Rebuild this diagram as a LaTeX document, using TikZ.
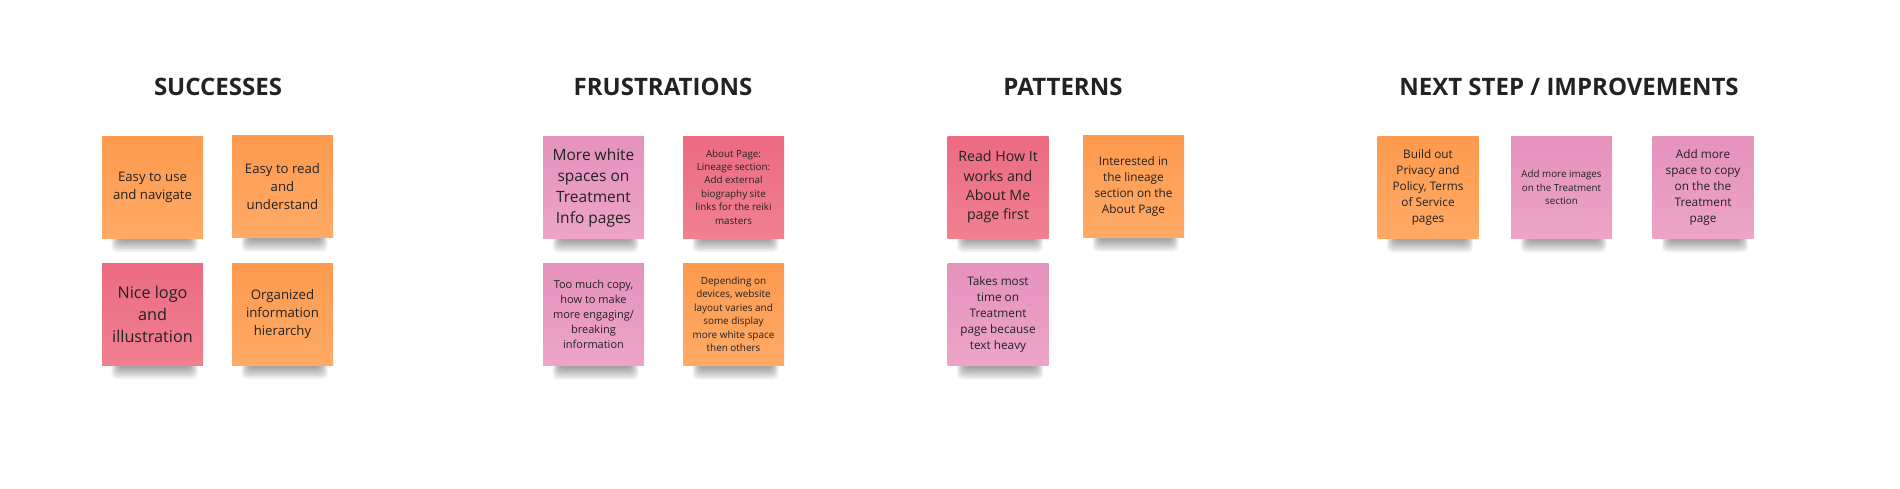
\documentclass[tikz,border=0pt]{standalone}
\usepackage{fontspec}
\setmainfont{Open Sans}
\definecolor{txt}{HTML}{222222}
\definecolor{orT}{HTML}{FD9A4E}
\definecolor{orB}{HTML}{FFAA66}
\definecolor{rdT}{HTML}{EC6B81}
\definecolor{rdB}{HTML}{F0808F}
\definecolor{pkT}{HTML}{E592BC}
\definecolor{pkB}{HTML}{EDA4C8}
\tikzset{
  note/.style={minimum width=101pt, minimum height=102pt, inner sep=0pt, align=center, text=txt},
  orangenote/.style={top color=orT, bottom color=orB},
  rednote/.style={top color=rdT, bottom color=rdB},
  pinknote/.style={top color=pkT, bottom color=pkB},
  heading/.style={font=\fontsize{24}{28}\selectfont\bfseries, text=txt, inner sep=0pt}
}
\newcommand\mynote[7]{%
  \foreach \k in {0,...,7}{\fill[black,opacity=0.05,rounded corners=5pt] ({#2-41+\k},{#3+42}) rectangle ({#2+45-\k},{#3+65-1.6*\k});}
  \node[note,#4,font=\fontsize{#5}{#6}\selectfont] (#1) at (#2,#3) {#7};
}
\begin{document}
\begin{tikzpicture}[x=1pt,y=-1pt]
\useasboundingbox[fill=white] (0,0) rectangle (1900,488);
% headings
\node[heading] (hs) at (218,87) {SUCCESSES};
\node[heading] (hf) at (663,87) {FRUSTRATIONS};
\node[heading] (hp) at (1063,87) {PATTERNS};
\node[heading] (hn) at (1569,87) {NEXT STEP / IMPROVEMENTS};
% successes
\mynote{s1}{152.5}{187}{orangenote}{13.2}{18}{Easy to use\\and navigate}
\mynote{s2}{282.5}{186.5}{orangenote}{13.2}{18}{Easy to read\\and\\understand}
\mynote{s3}{152.5}{314}{rednote}{16.2}{22}{Nice logo\\and\\illustration}
\mynote{s4}{282.5}{314}{orangenote}{13.2}{18}{Organized\\information\\hierarchy}
% frustrations
\mynote{f1}{593.5}{187.5}{pinknote}{15.5}{21}{More white\\spaces on\\Treatment\\Info pages}
\mynote{f2}{733.5}{187}{rednote}{9.8}{13.4}{About Page:\\Lineage section:\\Add external\\biography site\\links for the reiki\\masters}
\mynote{f3}{593.5}{314.5}{pinknote}{11}{15}{Too much copy,\\how to make\\more engaging/\\breaking\\information}
\mynote{f4}{733.5}{314.5}{orangenote}{9.9}{13.5}{Depending on\\devices, website\\layout varies and\\some display\\more white space\\then others}
% patterns
\mynote{p1}{998}{187}{rednote}{14.2}{19.3}{Read How It\\works and\\About Me\\page first}
\mynote{p2}{1133.5}{186.5}{orangenote}{11.8}{16}{Interested in\\the lineage\\section on the\\About Page}
\mynote{p3}{998}{314.5}{pinknote}{11.8}{16}{Takes most\\time on\\Treatment\\page because\\text heavy}
% next steps
\mynote{n1}{1428}{187.5}{orangenote}{11.8}{16}{Build out\\Privacy and\\Policy, Terms\\of Service\\pages}
\mynote{n2}{1561.5}{187.5}{pinknote}{9.8}{13.4}{Add more images\\on the Treatment\\section}
\mynote{n3}{1703}{187.5}{pinknote}{11.8}{16}{Add more\\space to copy\\on the the\\Treatment\\page}
\end{tikzpicture}
\end{document}
